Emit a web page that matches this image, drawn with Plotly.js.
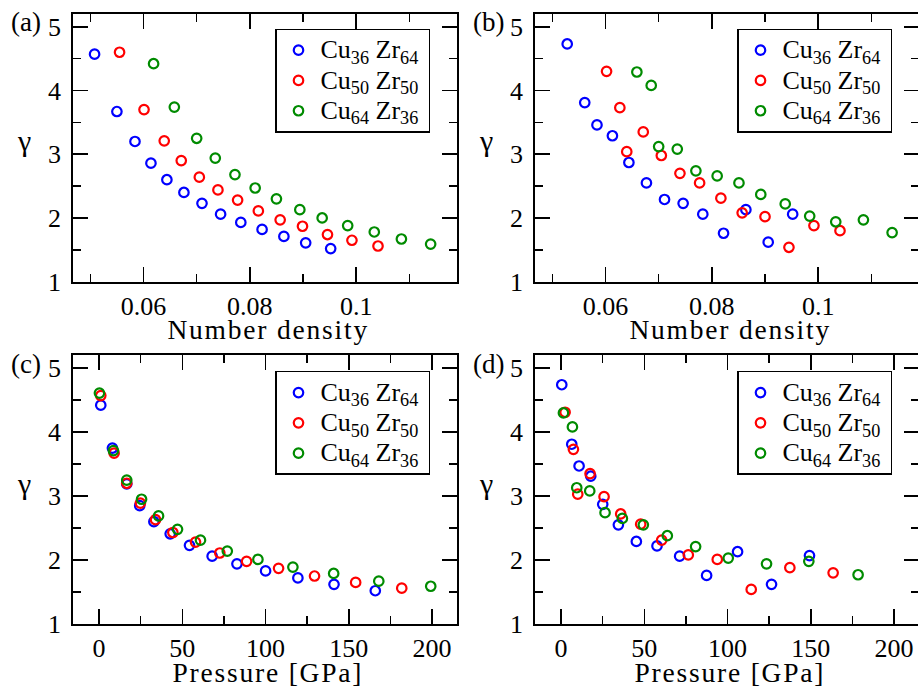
<!DOCTYPE html>
<html>
<head>
<meta charset="utf-8">
<script src="https://cdn.plot.ly/plotly-3.0.1.min.js"></script>
<style>
html, body { margin: 0; padding: 0; overflow: hidden; background: #fff; }
#chart { width: 921px; height: 687px; }
g.annotation[data-index="0"] text, g.annotation[data-index="1"] text,
g.annotation[data-index="2"] text, g.annotation[data-index="3"] text { letter-spacing: 1.8px; }
</style>
</head>
<body>
<div id="chart"></div>
<script>
// ---- Data ----
const seriesNames = ['Cu<sub>36</sub> Zr<sub>64</sub>', 'Cu<sub>50</sub> Zr<sub>50</sub>', 'Cu<sub>64</sub> Zr<sub>36</sub>'];

// Panel (a): gamma vs number density
const a_dens_36 = [0.0508,0.0550,0.0584,0.0614,0.0644,0.0676,0.0710,0.0745,0.0783,0.0823,0.0864,0.0905,0.0952];
const a_gam_36  = [4.57,3.67,3.20,2.86,2.60,2.40,2.23,2.06,1.93,1.82,1.71,1.61,1.52];
const a_dens_50 = [0.0555,0.0601,0.0639,0.0671,0.0705,0.0740,0.0777,0.0816,0.0857,0.0899,0.0946,0.0992,0.1041];
const a_gam_50  = [4.60,3.70,3.21,2.90,2.64,2.44,2.28,2.11,1.97,1.87,1.74,1.65,1.56];
const a_dens_64 = [0.0619,0.0658,0.0700,0.0735,0.0772,0.0810,0.0850,0.0894,0.0936,0.0984,0.1034,0.1085,0.1140];
const a_gam_64  = [4.42,3.74,3.25,2.94,2.68,2.47,2.30,2.13,2.00,1.88,1.78,1.67,1.59];

// Panel (b): gamma vs number density
const b_dens_36 = [0.0528,0.0561,0.0584,0.0613,0.0644,0.0677,0.0711,0.0746,0.0783,0.0822,0.0864,0.0906,0.0952];
const b_gam_36  = [4.73,3.81,3.46,3.29,2.87,2.55,2.29,2.23,2.06,1.76,2.13,1.62,2.06];
const b_dens_50 = [0.0602,0.0627,0.0640,0.0671,0.0705,0.0740,0.0777,0.0817,0.0857,0.0900,0.0945,0.0992,0.1041];
const b_gam_50  = [4.30,3.73,3.04,3.35,2.98,2.70,2.55,2.31,2.08,2.02,1.54,1.88,1.80];
const b_dens_64 = [0.0659,0.0686,0.0700,0.0735,0.0770,0.0810,0.0851,0.0892,0.0938,0.0984,0.1033,0.1085,0.1139];
const b_gam_64  = [4.29,4.08,3.12,3.08,2.74,2.66,2.55,2.37,2.22,2.03,1.94,1.97,1.77];

// Panel (c): gamma vs pressure [GPa]
const c_pres_36 = [1.0,8.0,16.6,24.4,32.9,42.7,54.3,67.9,82.8,100.0,119.4,141.1,165.9];
const c_gam_36  = [4.42,3.75,3.19,2.85,2.60,2.41,2.23,2.06,1.94,1.83,1.72,1.62,1.52];
const c_pres_50 = [1.0,9.0,16.6,24.8,33.9,44.3,57.9,72.5,88.6,107.8,129.4,154.1,181.8];
const c_gam_50  = [4.57,3.67,3.20,2.89,2.63,2.43,2.28,2.11,1.98,1.87,1.75,1.65,1.56];
const c_pres_64 = [0.2,8.6,16.6,25.5,35.7,47.1,60.9,77.0,95.4,116.4,140.9,168.0,199.2];
const c_gam_64  = [4.61,3.71,3.25,2.95,2.69,2.48,2.31,2.14,2.01,1.89,1.79,1.67,1.59];

// Panel (d): gamma vs pressure [GPa]
const d_pres_36 = [0.4,6.4,10.8,17.8,25.0,34.4,45.2,57.6,71.2,87.4,106.0,126.4,149.2];
const d_gam_36  = [4.74,3.81,3.47,3.31,2.87,2.55,2.29,2.22,2.06,1.76,2.13,1.62,2.07];
const d_pres_50 = [2.4,7.4,10.0,17.4,25.8,35.8,47.8,60.4,76.4,93.8,114.2,137.4,163.4];
const d_gam_50  = [4.31,3.73,3.03,3.35,2.99,2.72,2.56,2.31,2.08,2.01,1.54,1.88,1.80];
const d_pres_64 = [1.4,6.8,9.4,17.2,26.4,36.8,49.4,63.8,80.8,100.4,123.4,148.8,178.4];
const d_gam_64  = [4.30,4.08,3.13,3.08,2.74,2.65,2.55,2.38,2.21,2.03,1.94,1.98,1.77];

// Tick labels
const densTickVals = [0.06, 0.08, 0.1];
const densTickText = ['0.06', '0.08', '0.1'];
const presTickVals = [0, 50, 100, 150, 200];
const presTickText = ['0', '50', '100', '150', '200'];
const gamTickVals  = [1, 2, 3, 4, 5];
const gamTickText  = ['1', '2', '3', '4', '5'];
const panelLabels  = ['(a)', '(b)', '(c)', '(d)'];
const xTitles      = ['Number density', 'Number density', 'Pressure [GPa]', 'Pressure [GPa]'];
const yTitle       = 'γ';

// ---- Styling ----
const W = 921, H = 687;
const FONT = 'Liberation Serif, Times New Roman, serif';
const colors = ['#0000ff', '#ff0000', '#008b00'];
const px = v => v / W;
const py = v => 1 - v / H;

const panels = [
  {xs: [a_dens_36, a_dens_50, a_dens_64], ys: [a_gam_36, a_gam_50, a_gam_64]},
  {xs: [b_dens_36, b_dens_50, b_dens_64], ys: [b_gam_36, b_gam_50, b_gam_64]},
  {xs: [c_pres_36, c_pres_50, c_pres_64], ys: [c_gam_36, c_gam_50, c_gam_64]},
  {xs: [d_pres_36, d_pres_50, d_pres_64], ys: [d_gam_36, d_gam_50, d_gam_64]}
];

const traces = [];
panels.forEach((p, i) => {
  const n = i + 1;
  for (let k = 0; k < 3; k++) {
    traces.push({
      type: 'scatter', mode: 'markers',
      x: p.xs[k], y: p.ys[k],
      name: '<span style="font-size:26px">' + seriesNames[k] + '\u2009</span>',
      xaxis: n === 1 ? 'x' : 'x' + n,
      yaxis: n === 1 ? 'y' : 'y' + n,
      legend: n === 1 ? 'legend' : 'legend' + n,
      marker: {symbol: 'circle-open', size: 9.5, color: colors[k], line: {width: 2.2, color: colors[k]}},
      showlegend: true,
      cliponaxis: false
    });
  }
});

// Pixel geometry of the plot boxes
const colX = [[73.3, 456.7], [535.3, 918.7]];
const rowY = [[14, 281.7], [355.3, 624]];

function axisBase() {
  return {
    showline: true, linecolor: '#000', linewidth: 2, mirror: 'allticks',
    ticks: 'inside', ticklen: 15, tickwidth: 1.5, tickcolor: '#000',
    showgrid: false, zeroline: false,
    tickfont: {family: FONT, size: 26, color: '#000'},
    tickmode: 'array'
  };
}

const layout = {
  width: W, height: H,
  margin: {l: 0, r: 0, t: 0, b: 0},
  paper_bgcolor: '#fff', plot_bgcolor: '#fff',
  font: {family: FONT, color: '#000'},
  annotations: []
};

const legendPos = [[275, 28.5], [737, 28.5], [275, 370.9], [737, 370.9]];

// x-axis titles first (annotation indices 0..3)
for (let i = 0; i < 4; i++) {
  const c = i % 2, r = Math.floor(i / 2);
  layout.annotations.push({
    text: xTitles[i], xref: 'paper', yref: 'paper',
    x: px((colX[c][0] + colX[c][1]) / 2 + 3), y: py(r === 0 ? 329.5 : 672),
    xanchor: 'center', yanchor: 'middle', showarrow: false,
    font: {family: FONT, size: 27.5, color: '#000'}
  });
}

for (let i = 0; i < 4; i++) {
  const n = i + 1;
  const c = i % 2, r = Math.floor(i / 2);
  const xa = axisBase(), ya = axisBase();
  xa.domain = [px(colX[c][0]), px(colX[c][1])];
  ya.domain = [py(rowY[r][1]), py(rowY[r][0])];
  xa.anchor = n === 1 ? 'y' : 'y' + n;
  ya.anchor = n === 1 ? 'x' : 'x' + n;
  if (r === 0) {
    xa.range = [0.0468, 0.1189];
    xa.tickvals = densTickVals; xa.ticktext = densTickText;
    xa.minor = {ticks: 'inside', ticklen: 8, tickwidth: 1.5, tickcolor: '#000', tickmode: 'linear', tick0: 0, dtick: 0.01, showgrid: false};
  } else {
    xa.range = [-15.5, 214.8];
    xa.tickvals = presTickVals; xa.ticktext = presTickText;
    xa.minor = {ticks: 'inside', ticklen: 8, tickwidth: 1.5, tickcolor: '#000', tickmode: 'linear', tick0: 0, dtick: 25, showgrid: false};
  }
  ya.range = [1, 5.2];
  ya.tickvals = gamTickVals; ya.ticktext = gamTickText;
  ya.minor = {ticks: 'inside', ticklen: 8, tickwidth: 1.5, tickcolor: '#000', tickmode: 'linear', tick0: 0, dtick: 0.5, showgrid: false};
  ya.ticklabelstandoff = 5;

  layout[n === 1 ? 'xaxis' : 'xaxis' + n] = xa;
  layout[n === 1 ? 'yaxis' : 'yaxis' + n] = ya;

  layout[n === 1 ? 'legend' : 'legend' + n] = {
    x: px(legendPos[i][0]), y: py(legendPos[i][1]),
    xanchor: 'left', yanchor: 'top',
    bgcolor: '#fff', bordercolor: '#000', borderwidth: 1.5,
    font: {family: FONT, size: 21, color: '#000'},
    tracegroupgap: 0, itemwidth: 34
  };

  // panel label
  layout.annotations.push({
    text: panelLabels[i], xref: 'paper', yref: 'paper',
    x: px(c === 0 ? 25.5 : 488), y: py(r === 0 ? 22 : 364),
    xanchor: 'center', yanchor: 'middle', showarrow: false,
    font: {family: FONT, size: 27, color: '#000'}
  });
  // y title (horizontal gamma)
  layout.annotations.push({
    text: yTitle, xref: 'paper', yref: 'paper',
    x: px(c === 0 ? 24 : 486), y: py(r === 0 ? 140 : 483),
    xanchor: 'center', yanchor: 'middle', showarrow: false,
    font: {family: FONT, size: 30, color: '#000'}
  });
}

Plotly.newPlot('chart', traces, layout, {displayModeBar: false, staticPlot: true});
</script>
</body>
</html>
